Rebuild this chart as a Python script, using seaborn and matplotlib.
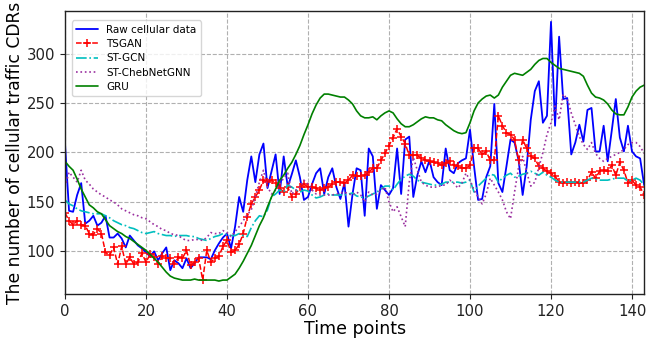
import numpy as np
import pandas as pd
import matplotlib
matplotlib.use("Agg")
import matplotlib.pyplot as plt
import seaborn as sns

time_points = list(range(144))

raw_cellular = [209, 141, 140, 157, 169, 128, 131, 136, 126, 129, 136, 114, 114, 118, 113, 104, 116, 111, 106, 103,
                99, 95, 100, 91, 98, 104, 81, 91, 88, 83, 93, 83, 88, 94, 94, 94, 92, 101, 108, 114,
                118, 103, 125, 155, 140, 172, 196, 170, 198, 209, 164, 181, 198, 158, 196, 165, 178, 192, 175, 152,
                155, 168, 179, 184, 158, 175, 184, 165, 153, 169, 125, 158, 184, 182, 136, 204, 196, 143, 167, 162,
                157, 164, 204, 158, 213, 216, 155, 177, 191, 180, 192, 175, 170, 167, 204, 182, 179, 189, 192, 194,
                223, 186, 152, 153, 175, 186, 249, 169, 160, 186, 213, 210, 192, 157, 186, 233, 262, 272, 230, 237,
                332, 227, 317, 254, 255, 198, 210, 228, 211, 243, 245, 201, 201, 227, 191, 222, 254, 215, 201, 227,
                201, 196, 194, 167]

tsgan = [139, 131, 127, 131, 127, 126, 118, 117, 123, 118, 99, 96, 104, 87, 105, 87, 94, 87, 89, 98,
         89, 97, 94, 87, 95, 93, 93, 87, 94, 93, 101, 86, 89, 93, 71, 101, 89, 93, 95, 105,
         111, 99, 101, 107, 118, 135, 148, 155, 162, 172, 170, 172, 169, 164, 160, 165, 155, 158, 165, 168,
         165, 165, 164, 162, 164, 165, 168, 170, 170, 169, 172, 177, 176, 176, 177, 180, 184, 184, 192, 199,
         207, 215, 224, 216, 209, 197, 197, 197, 194, 192, 191, 190, 189, 187, 189, 191, 187, 186, 184, 184,
         187, 204, 204, 198, 201, 192, 192, 237, 227, 220, 218, 213, 192, 213, 204, 196, 194, 186, 184, 181,
         179, 176, 170, 169, 170, 169, 170, 169, 169, 172, 180, 174, 181, 182, 181, 187, 177, 190, 182, 169,
         172, 167, 165, 157]

st_gcn = [152, 148, 146, 143, 141, 140, 139, 138, 138, 138, 136, 134, 131, 129, 127, 126, 124, 123, 121, 119,
          118, 119, 120, 118, 117, 116, 116, 115, 116, 116, 116, 115, 115, 113, 112, 111, 113, 115, 116, 118,
          117, 116, 116, 118, 116, 115, 124, 131, 136, 135, 142, 155, 158, 162, 160, 167, 165, 162, 160, 162,
          161, 157, 154, 155, 157, 158, 157, 157, 157, 157, 158, 159, 156, 155, 154, 156, 158, 160, 163, 166,
          166, 162, 168, 173, 176, 178, 176, 172, 170, 169, 168, 167, 167, 168, 170, 170, 170, 170, 169, 170,
          172, 160, 166, 170, 174, 178, 177, 170, 174, 177, 179, 175, 176, 178, 179, 181, 179, 177, 180, 177,
          175, 172, 170, 170, 170, 170, 170, 170, 170, 172, 174, 173, 172, 172, 172, 173, 174, 174, 174, 171,
          172, 174, 172, 167]

st_chebnet = [165, 180, 175, 170, 182, 172, 168, 163, 160, 157, 155, 152, 150, 147, 143, 141, 139, 137, 136, 134,
              133, 130, 127, 125, 122, 121, 118, 117, 116, 113, 111, 111, 112, 112, 111, 114, 119, 118, 118, 121,
              119, 115, 120, 125, 131, 137, 142, 155, 170, 182, 165, 158, 162, 168, 174, 179, 158, 162, 165, 172,
              168, 162, 158, 157, 157, 157, 157, 158, 159, 160, 158, 157, 160, 157, 150, 160, 157, 158, 162, 165,
              150, 140, 145, 135, 125, 170, 195, 182, 170, 167, 165, 165, 165, 167, 167, 172, 169, 164, 169, 179,
              172, 162, 155, 148, 158, 174, 167, 160, 152, 140, 133, 160, 185, 196, 180, 166, 170, 185, 200, 218,
              230, 247, 233, 259, 254, 240, 228, 216, 208, 203, 210, 199, 194, 191, 194, 196, 198, 200, 203, 208,
              210, 210, 206, 199]

gru = [191, 186, 182, 173, 163, 155, 147, 144, 140, 138, 132, 126, 123, 120, 118, 115, 113, 110, 107, 104,
       101, 97, 93, 89, 84, 79, 75, 73, 72, 71, 71, 71, 72, 71, 71, 71, 71, 71, 70, 71,
       71, 74, 77, 83, 90, 98, 106, 116, 126, 134, 145, 155, 163, 172, 177, 184, 190, 198, 207, 218,
       228, 239, 248, 255, 259, 259, 258, 257, 256, 256, 253, 249, 242, 237, 235, 235, 236, 233, 237, 240,
       242, 240, 234, 229, 226, 226, 228, 231, 234, 236, 235, 235, 233, 232, 228, 225, 222, 220, 219, 220,
       230, 242, 250, 254, 257, 258, 255, 258, 266, 272, 278, 280, 279, 278, 281, 284, 289, 293, 295, 295,
       291, 288, 285, 284, 283, 282, 281, 280, 277, 268, 260, 256, 255, 253, 249, 243, 239, 238, 238, 246,
       256, 262, 266, 268]

series_names = ["Raw cellular data", "TSGAN", "ST-GCN", "ST-ChebNetGNN", "GRU"]
x_ticks = [0, 20, 40, 60, 80, 100, 120, 140]
y_ticks = [100, 150, 200, 250, 300]

sns.set_style("ticks")
plt.rcParams.update({
    "axes.grid": True,
    "grid.linestyle": "--",
    "grid.color": "#b0b0b0",
    "grid.linewidth": 0.8,
    "axes.edgecolor": "#222222",
    "axes.linewidth": 1.0,
    "xtick.color": "#222222",
    "ytick.color": "#222222",
    "text.color": "black",
    "axes.labelcolor": "black",
})
plt.rcParams["font.family"] = ["DejaVu Sans"]

fig = plt.figure(figsize=(6.68, 3.39), dpi=100)
ax = fig.add_axes([0.0973, 0.133, 0.867, 0.8346])

df = pd.DataFrame({"t": time_points, "raw": raw_cellular, "tsgan": tsgan,
                   "gcn": st_gcn, "cheb": st_chebnet, "gru": gru})

sns.lineplot(data=df, x="t", y="raw", ax=ax, color="#0000ff", linewidth=1.3, label=series_names[0])
sns.lineplot(data=df, x="t", y="tsgan", ax=ax, color="#ff0000", linewidth=1.1, linestyle="--",
             label=series_names[1])
red_line = ax.lines[-1]
red_line.set_marker("+")
red_line.set_markersize(5.5)
red_line.set_markeredgewidth(1.1)
red_line.set_markeredgecolor("#ff0000")
sns.lineplot(data=df, x="t", y="gcn", ax=ax, color="#00bfbf", linewidth=1.2, linestyle="-.", label=series_names[2])
sns.lineplot(data=df, x="t", y="cheb", ax=ax, color="#9a2f9f", linewidth=1.2, linestyle=":", label=series_names[3])
sns.lineplot(data=df, x="t", y="gru", ax=ax, color="#008000", linewidth=1.2, label=series_names[4])

ax.set_xlim(0, 143)
ax.set_ylim(57, 343)
ax.set_xticks(x_ticks)
ax.set_yticks(y_ticks)
ax.tick_params(labelsize=10.7, direction="out", length=3.5)
ax.set_xlabel("Time points", fontsize=12.5, labelpad=1)
ax.set_ylabel("The number of cellular traffic CDRs", fontsize=12.3, labelpad=2)
ax.grid(True, linestyle="--", color="#b0b0b0", linewidth=0.8)

handles, labels = ax.get_legend_handles_labels()
leg = ax.legend(handles, labels, loc="upper left", fontsize=7.5, frameon=True, borderpad=0.4,
                labelspacing=0.42, handlelength=2.1, numpoints=1, fancybox=True, framealpha=0.8,
                edgecolor="#cccccc", bbox_to_anchor=(0.003, 0.985))

fig.savefig("out.png", dpi=100)
